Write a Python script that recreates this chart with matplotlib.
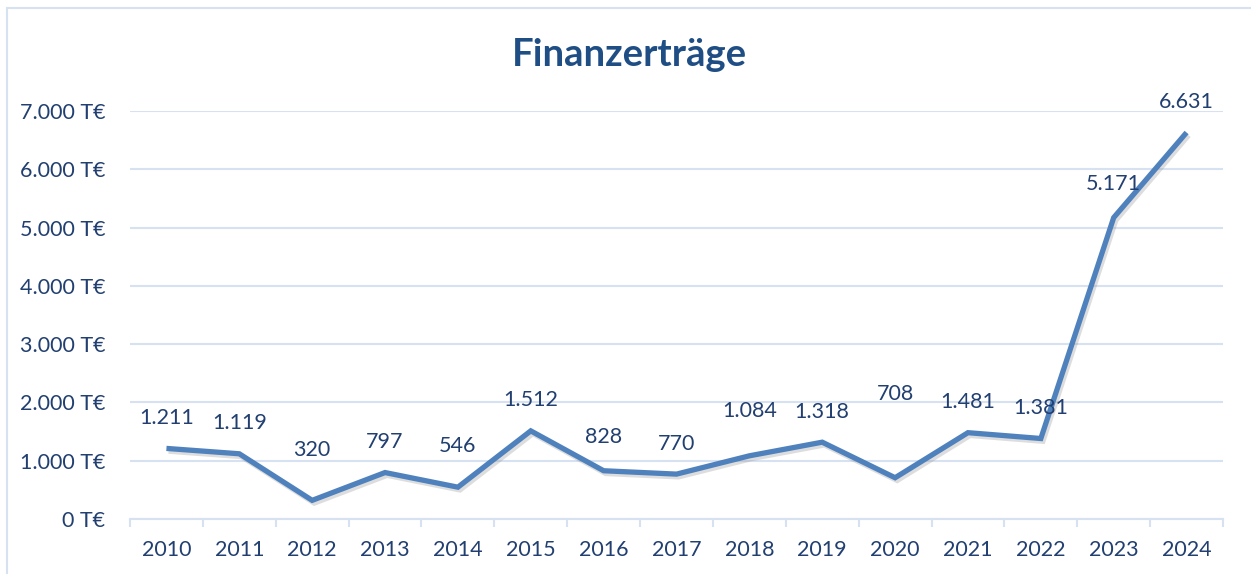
import numpy as np
import matplotlib.pyplot as plt
import matplotlib.patheffects as pe
from matplotlib.patches import Rectangle
from matplotlib.ticker import FuncFormatter, FixedLocator

years = ['2010', '2011', '2012', '2013', '2014', '2015', '2016', '2017',
         '2018', '2019', '2020', '2021', '2022', '2023', '2024']
ertraege = [1211, 1119, 320, 797, 546, 1512, 828, 770,
            1084, 1318, 708, 1481, 1381, 5171, 6631]
# extra lift of single labels (points) as placed in the original
label_lift = [0, 0, 14, 0, 8, 0, 2, 0, 10, 0, 38, 0, 0, 2, 0]

textcol = '#213f70'
gridcol = '#d6e1f2'
linecol = '#4f81bd'

plt.rcParams['font.family'] = ['Lato', 'DejaVu Sans']

fig = plt.figure(figsize=(12.51, 5.74), dpi=100)
ax = fig.add_axes([130/1251, 1-519/574, (1223-130)/1251, (519-111)/574])

x = np.arange(len(years))
ax.plot(x, ertraege, color=linecol, lw=3.8, solid_joinstyle='miter', solid_capstyle='butt',
        path_effects=[pe.SimpleLineShadow(offset=(1.5, -2), shadow_color='#888888', alpha=0.28),
                      pe.Normal()], zorder=3)

for i, v in enumerate(ertraege):
    lab = f'{v:,}'.replace(',', '.')
    ax.annotate(lab, (x[i], v), xytext=(0, 22 + label_lift[i]), textcoords='offset points',
                ha='center', va='center', fontsize=15.5, color=textcol, zorder=4)

ax.set_xlim(-0.5, len(years) - 0.5)
ax.set_ylim(0, 7000)
ax.set_yticks(np.arange(0, 7001, 1000))
ax.yaxis.set_major_formatter(FuncFormatter(lambda v, p: f'{int(v):,} T€'.replace(',', '.')))
ax.set_xticks(x)
ax.set_xticklabels(years)
ax.xaxis.set_minor_locator(FixedLocator(np.arange(-0.5, len(years), 1)))

ax.grid(axis='y', color=gridcol, lw=1.5)
ax.set_axisbelow(True)
for s in ['top', 'right', 'left']:
    ax.spines[s].set_visible(False)
ax.spines['bottom'].set_color(gridcol)
ax.spines['bottom'].set_linewidth(1.5)

ax.tick_params(axis='y', length=0, pad=18, labelsize=15.5, labelcolor=textcol)
ax.tick_params(axis='x', which='major', length=0, pad=15, labelsize=15.5, labelcolor=textcol)
ax.tick_params(axis='x', which='minor', length=6, width=1.5, color=gridcol)

fig.text(629/1251, 1-55/574, 'Finanzerträge', ha='center', va='center',
         fontsize=27.5, fontweight='bold', color='#1f4e85')

fig.patches.append(Rectangle((7/1251, -0.1), 1.2, 1 - 8/574 + 0.1, transform=fig.transFigure,
                             fill=False, edgecolor=gridcol, lw=1.5))

fig.savefig('out.png', dpi=100)
